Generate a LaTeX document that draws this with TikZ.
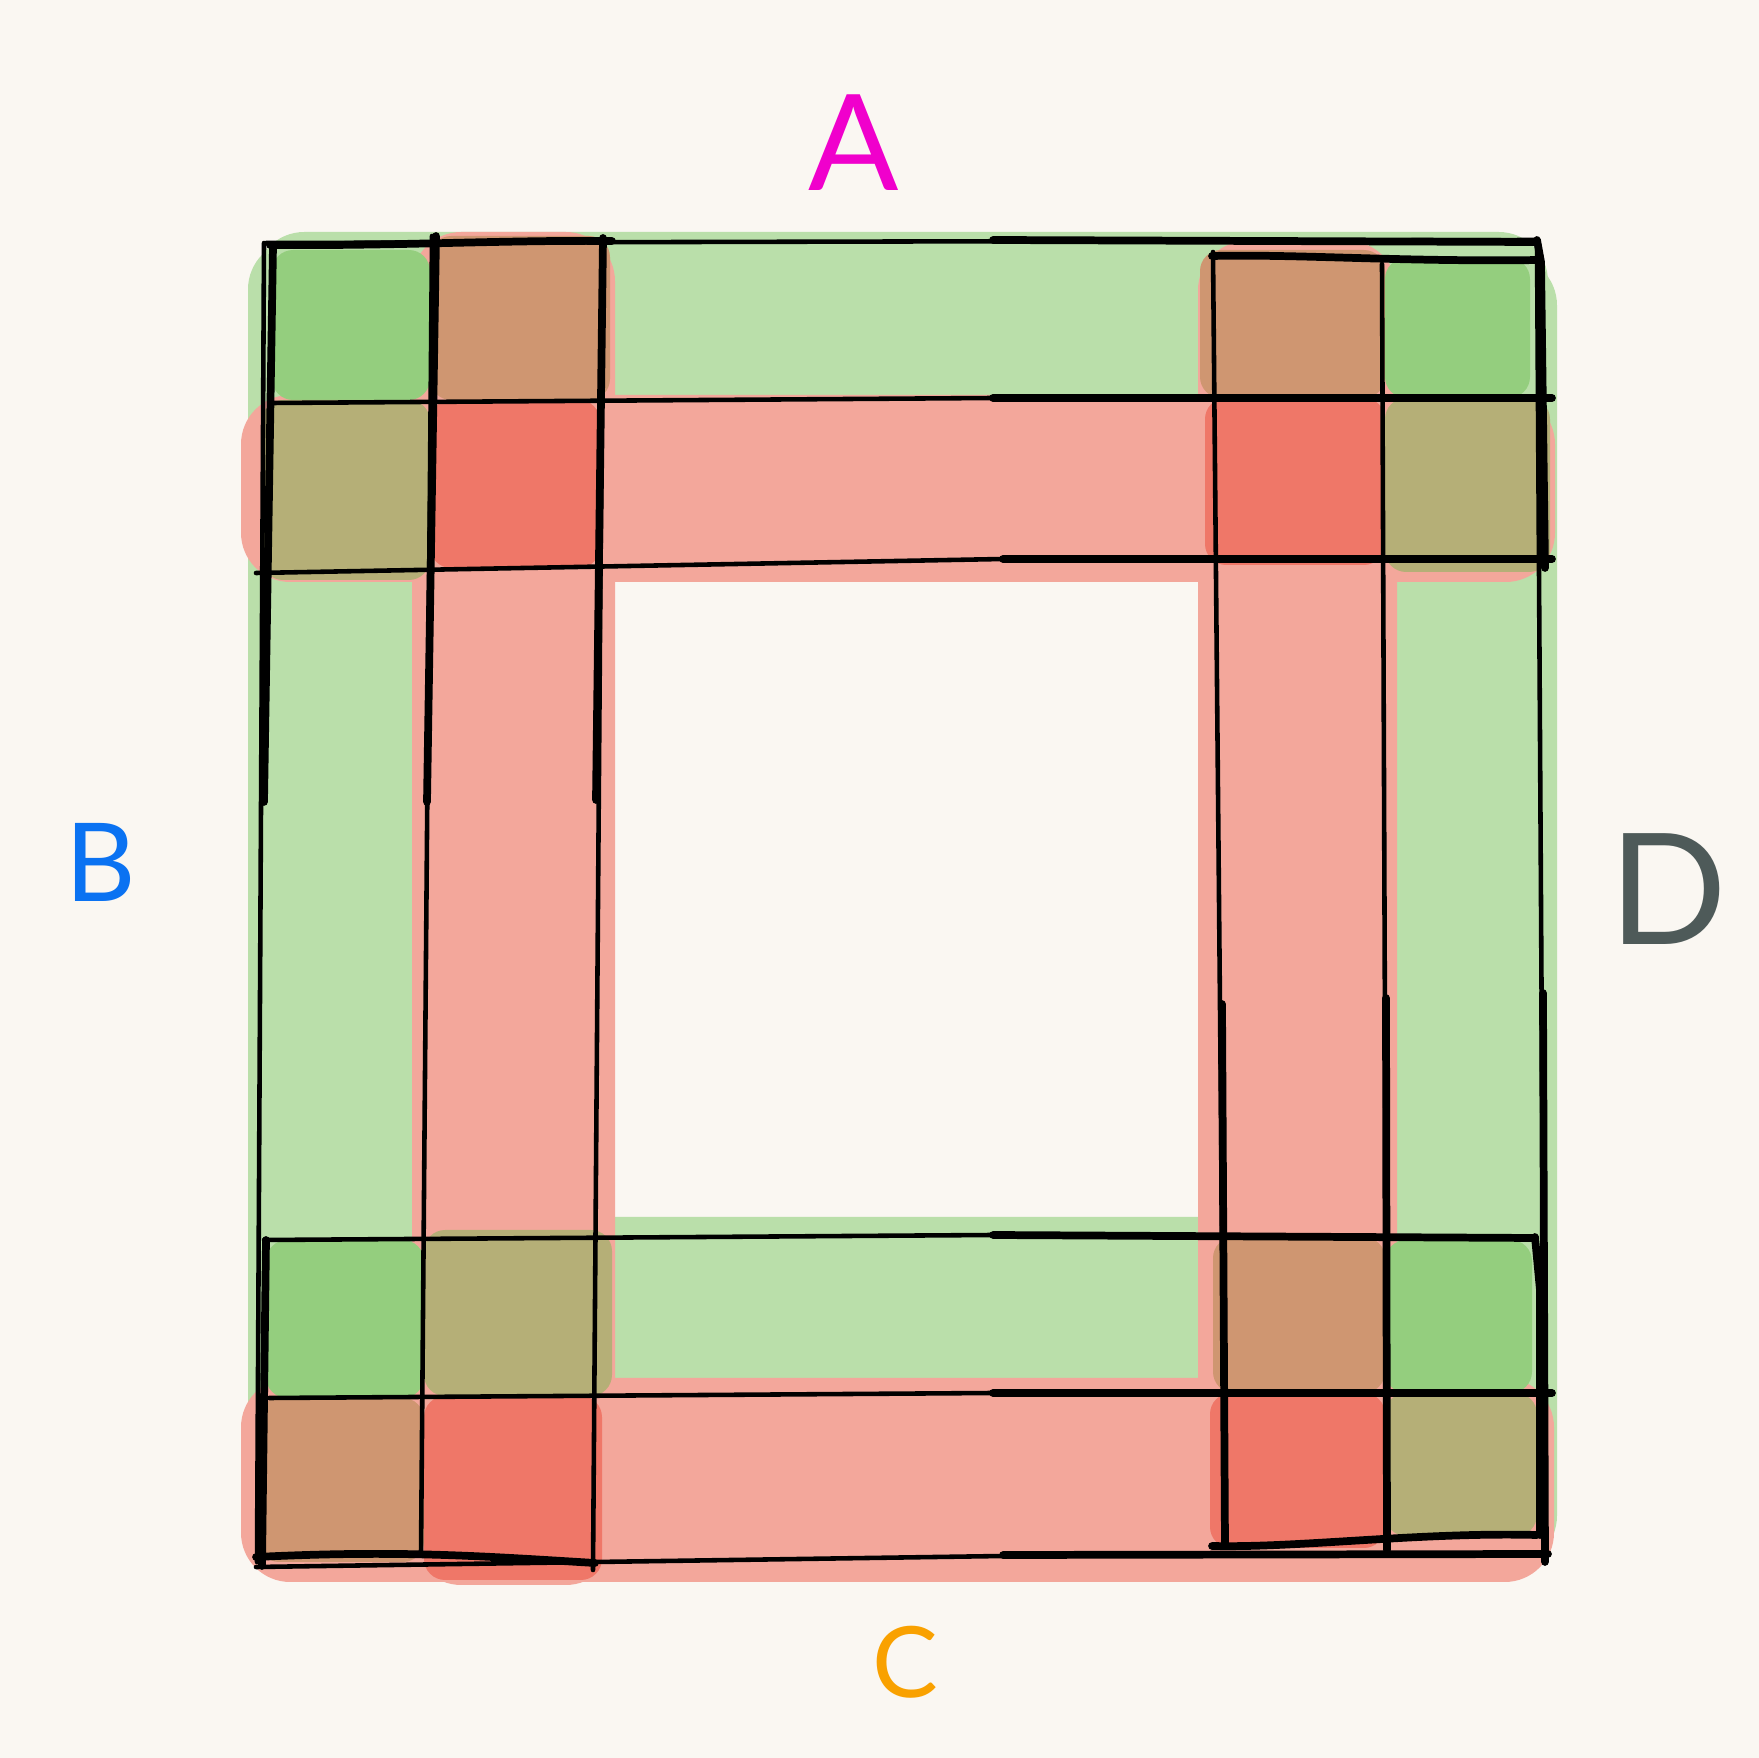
\documentclass[tikz,border=0pt]{standalone}
\usepackage{fontspec}
\newfontfamily\labelfont{Lato}
\definecolor{bg}{HTML}{FAF7F2}
\definecolor{lgreen}{HTML}{BADFAA}
\definecolor{dgreen}{HTML}{94CE7E}
\definecolor{lred}{HTML}{F3A79B}
\definecolor{dred}{HTML}{EF7768}
\definecolor{brownish}{HTML}{CF9671}
\definecolor{olive}{HTML}{B5AF77}
\definecolor{cA}{HTML}{F000CC}
\definecolor{cB}{HTML}{0A72F2}
\definecolor{cC}{HTML}{F9A100}
\definecolor{cD}{HTML}{4E5A59}
\tikzset{
  band/.style={rounded corners=14pt},
  cell/.style={rounded corners=6pt},
  thinline/.style={line width=1.3pt, line cap=round, black},
  thickline/.style={line width=2.2pt, line cap=round, black},
  lbl/.style={inner sep=0pt}
}
\begin{document}
\begin{tikzpicture}[x=0.01cm,y=-0.01cm]
\fill[bg] (0,0) rectangle (1759,1758);
\useasboundingbox (0,0) rectangle (1759,1758);
% light bands
\fill[lgreen,band] (255,232) rectangle (1548,402);
\fill[lgreen,band] (248,240) rectangle (432,1565);
\fill[lgreen,band] (1383,256) rectangle (1557,1565);
\fill[lgreen,band] (249,1217) rectangle (1542,1402);
\fill[lred,band] (241,395) rectangle (1555,582);
\fill[lred,band] (412,232) rectangle (615,1585);
\fill[lred,band] (1198,241) rectangle (1397,1556);
\fill[lred,band] (241,1378) rectangle (1554,1582);
% top-left cells
\fill[dgreen,cell] (272,250) rectangle (430,400);
\fill[brownish,cell] (430,236) rectangle (610,400);
\fill[olive,cell] (262,400) rectangle (430,580);
\fill[dred,cell] (430,400) rectangle (600,568);
% top-right cells
\fill[brownish,cell] (1200,250) rectangle (1385,398);
\fill[dgreen,cell] (1385,258) rectangle (1530,398);
\fill[dred,cell] (1205,398) rectangle (1385,565);
\fill[olive,cell] (1385,398) rectangle (1550,572);
% bottom-left cells
\fill[dgreen,cell] (266,1240) rectangle (424,1398);
\fill[olive,cell] (424,1230) rectangle (612,1396);
\fill[brownish,cell] (258,1398) rectangle (424,1562);
\fill[dred,cell] (424,1396) rectangle (602,1580);
% bottom-right cells
\fill[brownish,cell] (1213,1237) rectangle (1385,1393);
\fill[dgreen,cell] (1385,1240) rectangle (1532,1393);
\fill[dred,cell] (1210,1393) rectangle (1385,1548);
\fill[olive,cell] (1385,1393) rectangle (1537,1536);
% horizontal lines
\draw[thinline] (266,243) -- (1535,240);
\draw[thickline] (270,245) .. controls (400,246) and (500,240) .. (612,241);
\draw[thickline] (993,240) -- (1535,242);
\draw[thickline] (1212,256) .. controls (1300,254) and (1400,262) .. (1540,260);
\draw[thinline] (272,403) -- (993,398);
\draw[thickline] (993,398) -- (1552,398);
\draw[thinline] (256,573) -- (1003,559);
\draw[thickline] (1003,559) -- (1552,559);
\draw[thinline] (264,1240) -- (993,1235);
\draw[thickline] (993,1235) -- (1535,1238);
\draw[thinline] (269,1398) -- (993,1393);
\draw[thickline] (993,1393) -- (1552,1393);
\draw[thinline] (256,1567) -- (1003,1556);
\draw[thickline] (1003,1555) -- (1548,1554);
\draw[thickline] (256,1557) .. controls (400,1550) and (480,1556) .. (595,1563);
\draw[thickline] (1212,1546) .. controls (1300,1548) and (1420,1532) .. (1537,1535);
% vertical lines
\draw[thinline] (264,243) -- (257,1562);
\draw[thickline] (273,246) -- (264,802);
\draw[thickline] (266,1240) -- (262,1566);
\draw[thinline] (432,236) -- (421,1554);
\draw[thickline] (436,236) -- (427,802);
\draw[thinline] (603,238) -- (593,1570);
\draw[thickline] (603,238) -- (596,800);
\draw[thinline] (1213,252) -- (1225,1546);
\draw[thickline] (1222,1004) -- (1225,1546);
\draw[thinline] (1382,264) -- (1387,1550);
\draw[thickline] (1386,998) -- (1387,1550);
\draw[thinline] (1537,241) -- (1545,1562);
\draw[thickline] (1543,993) -- (1545,1562);
\draw[thickline] (1537,240) -- (1541,262) -- (1545,568);
\draw[thickline] (1535,1237) -- (1540,1290) -- (1540,1535);
% labels
\node[lbl,text=cA,font=\labelfont\fontsize{38}{40}\selectfont] (A) at (854,143) {A};
\node[lbl,text=cB,font=\labelfont\fontsize{31}{33}\selectfont] (B) at (101,862) {B};
\node[lbl,text=cC,font=\labelfont\fontsize{28}{30}\selectfont] (C) at (905,1662) {C};
\node[lbl,text=cD,font=\labelfont\fontsize{44}{46}\selectfont] (D) at (1668,889) {D};
\end{tikzpicture}
\end{document}
